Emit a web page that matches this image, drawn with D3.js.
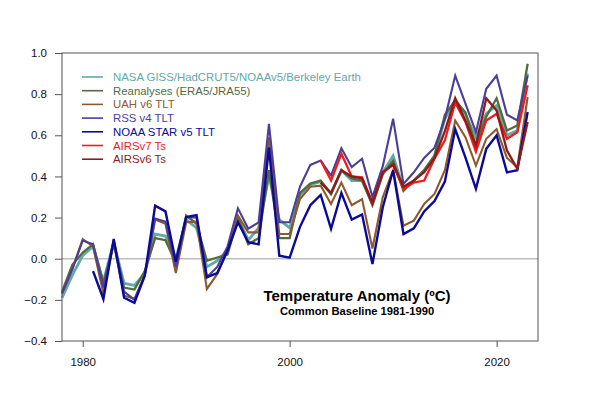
<!DOCTYPE html>
<html>
<head>
<meta charset="utf-8">
<script src="https://cdn.jsdelivr.net/npm/d3@7.9.0/dist/d3.min.js"></script>
<style>
  body { margin: 0; background: #fff; }
  svg { font-family: "Liberation Sans", Arial, Helvetica, sans-serif; }
  .tick text { font-size: 11.5px; fill: #111; }
</style>
</head>
<body>
<svg id="chart" width="600" height="394"></svg>
<script>
// -------------------------
// Data (annual anomalies, ºC, baseline 1981-1990)
// -------------------------
const years = d3.range(1978, 2024);

const surface = [-0.19, -0.08, 0.015, 0.06, -0.11, 0.08, -0.12, -0.13, -0.07, 0.12,
  0.11, 0.0, 0.19, 0.15, -0.04, -0.01, 0.04, 0.2, 0.09, 0.15,
  0.40, 0.19, 0.15, 0.31, 0.36, 0.375, 0.315, 0.43, 0.38, 0.38,
  0.27, 0.42, 0.50, 0.34, 0.38, 0.43, 0.50, 0.68, 0.77, 0.70,
  0.59, 0.705, 0.745, 0.60, 0.623, 0.90];

const reanalyses = [-0.16, -0.03, 0.03, 0.07, -0.12, 0.07, -0.14, -0.15, -0.06, 0.10,
  0.09, -0.02, 0.21, 0.17, -0.01, 0.006, 0.02, 0.2, 0.07, 0.10,
  0.43, 0.10, 0.10, 0.32, 0.365, 0.38, 0.315, 0.43, 0.39, 0.38,
  0.26, 0.41, 0.477, 0.33, 0.38, 0.43, 0.50, 0.70, 0.77, 0.71,
  0.55, 0.69, 0.78, 0.623, 0.648, 0.948];

const uah = [-0.17, -0.05, 0.095, 0.06, -0.17, 0.08, -0.18, -0.195, -0.08, 0.19,
  0.17, -0.07, 0.177, 0.18, -0.147, -0.075, 0.04, 0.21, 0.128, 0.128,
  0.59, 0.12, 0.12, 0.29, 0.35, 0.355, 0.266, 0.37, 0.26, 0.29,
  0.05, 0.30, 0.43, 0.16, 0.185, 0.266, 0.315, 0.43, 0.672, 0.59,
  0.453, 0.583, 0.63, 0.49, 0.445, 0.786];

const rss = [-0.17, -0.05, 0.088, 0.07, -0.14, 0.09, -0.16, -0.2, -0.08, 0.195,
  0.18, -0.04, 0.2, 0.2, -0.09, -0.04, 0.06, 0.245, 0.146, 0.177,
  0.656, 0.177, 0.177, 0.35, 0.456, 0.477, 0.404, 0.537, 0.445, 0.486,
  0.30, 0.45, 0.68, 0.364, 0.42, 0.49, 0.54, 0.68, 0.89, 0.753,
  0.615, 0.826, 0.89, 0.70, 0.672, 0.89];

const star = [null, null, null, -0.06, -0.196, 0.096, -0.19, -0.215, -0.083, 0.258,
  0.23, -0.015, 0.203, 0.212, -0.09, -0.07, 0.04, 0.177, 0.08, 0.07,
  0.54, 0.015, 0.005, 0.155, 0.26, 0.31, 0.145, 0.32, 0.19, 0.215,
  -0.026, 0.25, 0.43, 0.12, 0.148, 0.23, 0.28, 0.375, 0.63, 0.49,
  0.34, 0.534, 0.60, 0.42, 0.43, 0.713];

const airsV7 = [null, null, null, null, null, null, null, null, null, null,
  null, null, null, null, null, null, null, null, null, null,
  null, null, null, null, null, 0.477, 0.38, 0.51, 0.40, 0.396,
  0.27, 0.42, 0.455, 0.34, 0.37, 0.38, 0.486, 0.575, 0.76, 0.664,
  0.52, 0.672, 0.705, 0.583, 0.615, 0.843];

const airsV6 = [null, null, null, null, null, null, null, null, null, null,
  null, null, null, null, null, null, null, null, null, null,
  null, null, null, null, null, 0.37, 0.32, 0.43, 0.40, 0.39,
  0.27, 0.42, 0.46, 0.35, 0.38, 0.42, 0.49, 0.62, 0.78, 0.67,
  0.55, 0.78, 0.72, 0.526, 0.437, 0.664];

const seriesNames = ['NASA GISS/HadCRUT5/NOAAv5/Berkeley Earth', 'Reanalyses (ERA5/JRA55)',
  'UAH v6 TLT', 'RSS v4 TLT', 'NOAA STAR v5 TLT', 'AIRSv7 Ts', 'AIRSv6 Ts'];
const seriesValues = [surface, reanalyses, uah, rss, star, airsV7, airsV6];
const seriesColors = ['#62aaa7', '#556b3c', '#8c5a2e', '#4b3e98', '#0a0a96', '#ee1c1c', '#8e1a1a'];
const seriesWidths = [2.8, 2.3, 2.1, 2.1, 2.4, 2.3, 2.3];

const xTicks = [1980, 2000, 2020];
const yTicks = [-0.4, -0.2, 0.0, 0.2, 0.4, 0.6, 0.8, 1.0];

// -------------------------
// Scales
// -------------------------
const plot = { left: 62, right: 538, top: 53, bottom: 341 };
const x = d3.scaleLinear().domain([1978, 2024]).range([plot.left, plot.right]);
const y = d3.scaleLinear().domain([-0.4, 1.0]).range([plot.bottom, plot.top]);

const svg = d3.select('#chart');

// zero line
svg.append('line')
  .attr('x1', plot.left).attr('x2', plot.right)
  .attr('y1', y(0)).attr('y2', y(0))
  .attr('stroke', '#bdbdbd').attr('stroke-width', 1.5);

// -------------------------
// Lines (drawn in legend order)
// -------------------------
const line = d3.line()
  .defined(d => d.v != null)
  .x(d => x(d.year))
  .y(d => y(d.v));

seriesValues.forEach((vals, i) => {
  const pts = years.map((yr, j) => ({ year: yr, v: vals[j] }));
  svg.append('path')
    .attr('d', line(pts))
    .attr('fill', 'none')
    .attr('stroke', seriesColors[i])
    .attr('stroke-width', seriesWidths[i])
    .attr('stroke-linejoin', 'miter');
});

// -------------------------
// Frame + axes
// -------------------------
svg.append('rect')
  .attr('x', plot.left).attr('y', plot.top)
  .attr('width', plot.right - plot.left).attr('height', plot.bottom - plot.top)
  .attr('fill', 'none').attr('stroke', '#555').attr('stroke-width', 1);

const yAxis = svg.append('g')
  .attr('transform', `translate(${plot.left},0)`)
  .call(d3.axisLeft(y).tickValues(yTicks).tickFormat(d3.format('.1f')).tickSize(7).tickPadding(8));

const xAxis = svg.append('g')
  .attr('transform', `translate(0,${plot.bottom})`)
  .call(d3.axisBottom(x).tickValues(xTicks).tickFormat(d3.format('d')).tickSize(6).tickPadding(11));

[yAxis, xAxis].forEach(g => {
  g.select('.domain').remove();
  g.selectAll('.tick line').attr('stroke', '#555');
});

// -------------------------
// Legend
// -------------------------
const legend = svg.append('g').attr('transform', 'translate(82,77)');
seriesNames.forEach((name, i) => {
  const row = legend.append('g').attr('transform', `translate(0,${i * 13.7})`);
  row.append('line')
    .attr('x1', 0).attr('x2', 21)
    .attr('stroke', seriesColors[i]).attr('stroke-width', 1.6);
  row.append('text')
    .attr('x', 31).attr('y', 4)
    .attr('font-size', 11.4)
    .attr('fill', seriesColors[i])
    .text(name);
});

// -------------------------
// Titles
// -------------------------
svg.append('text')
  .attr('x', 357).attr('y', 301)
  .attr('text-anchor', 'middle')
  .attr('font-size', 15).attr('font-weight', 'bold')
  .text('Temperature Anomaly (ºC)');

svg.append('text')
  .attr('x', 357).attr('y', 315)
  .attr('text-anchor', 'middle')
  .attr('font-size', 11.2).attr('font-weight', 'bold')
  .text('Common Baseline 1981-1990');
</script>
</body>
</html>
